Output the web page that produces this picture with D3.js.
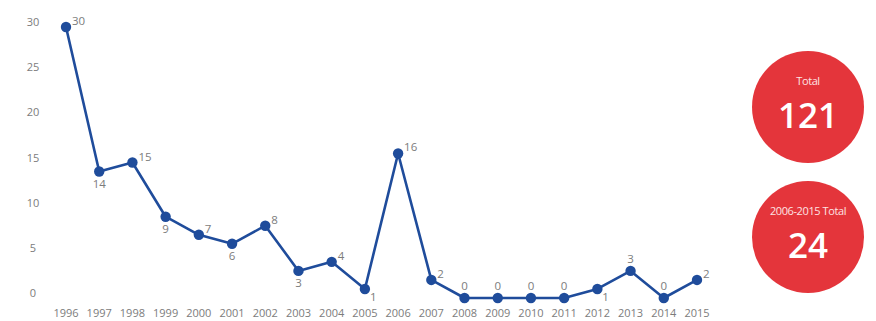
<!DOCTYPE html>
<html>
<head>
<meta charset="utf-8">
<script src="https://cdn.jsdelivr.net/npm/d3@7"></script>
<style>
  body { margin: 0; background: #fff; }
  svg { display: block; font-family: "Open Sans", "Noto Sans", sans-serif; }
</style>
</head>
<body>
<script>
// data
const years = [1996, 1997, 1998, 1999, 2000, 2001, 2002, 2003, 2004, 2005,
               2006, 2007, 2008, 2009, 2010, 2011, 2012, 2013, 2014, 2015];
const counts = [30, 14, 15, 9, 7, 6, 8, 3, 4, 1, 16, 2, 0, 0, 0, 0, 1, 3, 0, 2];
// where each value label sits relative to its point
const labelSide = ["r", "b", "r", "b", "r", "b", "r", "b", "r", "br",
                   "r", "r", "a", "a", "a", "a", "br", "a", "a", "r"];
const yTicks = [0, 5, 10, 15, 20, 25, 30];
const totalLabels = ["Total", "2006-2015 Total"];
const totalValues = [121, 24];

const W = 876, H = 321;
const svg = d3.select("body").append("svg").attr("width", W).attr("height", H);

const x = d3.scalePoint().domain(years).range([66, 697]);
const y = d3.scaleLinear().domain([0, 30]).range([298, 27]);

const blue = "#1f4c9b";
const grey = "#7c7c7c";

// y axis labels (no line)
svg.append("g").selectAll("text").data(yTicks).join("text")
  .attr("x", 33).attr("y", d => y(d) - 1)
  .attr("text-anchor", "middle")
  .attr("font-size", 11).attr("fill", grey)
  .text(d => d);

// x axis labels
svg.append("g").selectAll("text").data(years).join("text")
  .attr("x", d => x(d)).attr("y", 317)
  .attr("text-anchor", "middle")
  .attr("font-size", 11).attr("fill", grey)
  .text(d => d);

// line
const line = d3.line().x((d, i) => x(years[i])).y(d => y(d));
svg.append("path").datum(counts)
  .attr("d", line)
  .attr("fill", "none").attr("stroke", blue).attr("stroke-width", 2.6)
  .attr("stroke-linejoin", "round");

svg.append("g").selectAll("circle").data(counts).join("circle")
  .attr("cx", (d, i) => x(years[i])).attr("cy", d => y(d))
  .attr("r", 5.2).attr("fill", blue);

// value labels
const off = {
  r:  [6, -2, "start"],
  b:  [0, 16, "middle"],
  br: [5, 12, "start"],
  a:  [0, -8, "middle"]
};
svg.append("g").selectAll("text").data(counts).join("text")
  .attr("x", (d, i) => x(years[i]) + off[labelSide[i]][0])
  .attr("y", (d, i) => y(d) + off[labelSide[i]][1])
  .attr("text-anchor", (d, i) => off[labelSide[i]][2])
  .attr("font-size", 11.5).attr("fill", grey)
  .text(d => d);

// total bubbles
const bubbleY = d3.scalePoint().domain([0, 1]).range([107, 237]);
const bubbles = svg.append("g").selectAll("g").data(totalValues).join("g")
  .attr("transform", (d, i) => `translate(808,${bubbleY(i)})`);
bubbles.append("circle").attr("r", 56).attr("fill", "#e4353b");
bubbles.append("text")
  .attr("y", -22).attr("text-anchor", "middle")
  .attr("font-size", 11).attr("fill", "#fde3e3")
  .style("letter-spacing", "-0.4px")
  .text((d, i) => totalLabels[i]);
bubbles.append("text")
  .attr("y", 21).attr("text-anchor", "middle")
  .attr("font-size", 35).attr("font-weight", 600).attr("fill", "#fff")
  .text(d => d);
</script>
</body>
</html>
